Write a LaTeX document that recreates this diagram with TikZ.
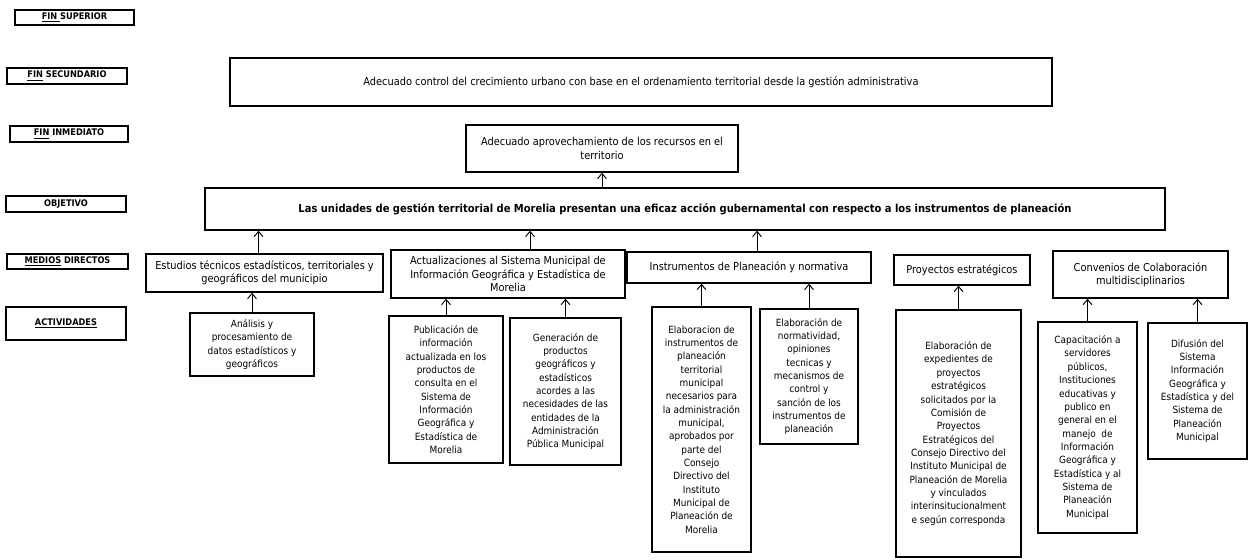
\documentclass[tikz,border=0pt]{standalone}
\usepackage{fontspec}
\setmainfont{DejaVu Sans Condensed}
\usetikzlibrary{arrows.meta}
\tikzset{>={Straight Barb[length=3pt,width=5pt]}}
\newcommand{\px}{0.02cm}
\tikzset{
  box/.style = {draw, line width=0.75pt, inner sep=1pt, align=center,
                font=\fontsize{5.65}{7.6}\selectfont},
  wh/.style 2 args = {minimum width=#1*\px, minimum height=#2*\px},
  level/.style = {box, font=\fontsize{5.2}{6}\selectfont\bfseries},
  medio/.style = {box, font=\fontsize{6.2}{7.5}\selectfont},
  fin/.style = {box, font=\fontsize{6.2}{8}\selectfont},
  up/.style = {->, line width=0.55pt}
}

\begin{document}
\begin{tikzpicture}[x=\px,y=-\px]
  \useasboundingbox (0,0) rectangle (1249,560);
  % levels on the left
  \node[level,wh={119}{15}] (lsup) at (74.5,17.5) {\underline{FIN\ }SUPERIOR};
  \node[level,wh={120}{16}] (lsec) at (67,76) {\underline{FIN} SECUNDARIO};
  \node[level,wh={118}{16}] (linm) at (69,134) {\underline{FIN} INMEDIATO};
  \node[level,wh={120}{16}] (lobj) at (66,204) {OBJETIVO};
  \node[level,wh={121}{15}] (lmed) at (67.5,261.5) {\underline{MEDIOS} DIRECTOS};
  \node[level,wh={120}{33}] (lact) at (66,323.5) {\underline{ACTIVIDADES}};
  % fines and objetivo
  \node[fin,wh={822}{48}] (fsec) at (641,82)
    {Adecuado control del crecimiento urbano con base en el ordenamiento territorial desde la gesti\'on administrativa};
  \node[fin,wh={272}{47}] (finm) at (602,148.5)
    {Adecuado aprovechamiento de los recursos en el\\territorio};
  \node[box,wh={960}{42},font=\fontsize{6.3}{8}\selectfont\bfseries] (obj) at (685,209)
    {Las unidades de gesti\'on territorial de Morelia presentan una eficaz acci\'on gubernamental con respecto a los instrumentos de planeaci\'on};
  % medios directos
  \node[medio,wh={237}{38}] (m1) at (264.5,273)
    {Estudios t\'ecnicos estad\'isticos, territoriales y\\geogr\'aficos del municipio};
  \node[medio,wh={234}{48}] (m2) at (508,274)
    {Actualizaciones al Sistema Municipal de\\Informaci\'on Geogr\'afica y Estad\'istica de\\Morelia};
  \node[medio,wh={244}{31}] (m3) at (749,267.5) {Instrumentos de Planeaci\'on y normativa};
  \node[medio,wh={136}{30}] (m4) at (962,270) {Proyectos estrat\'egicos};
  \node[medio,wh={175}{47}] (m5) at (1140.5,274.5) {Convenios de Colaboraci\'on\\multidisciplinarios};
  % actividades
  \node[box,wh={124}{63}] (a1) at (252,344.5)
    {An\'alisis y\\procesamiento de\\datos estad\'isticos y\\geogr\'aficos};
  \node[box,wh={114}{147}] (a2) at (446,389.5)
    {Publicaci\'on de\\informaci\'on\\actualizada en los\\productos de\\consulta en el\\Sistema de\\Informaci\'on\\Geogr\'afica y\\Estad\'istica de\\Morelia};
  \node[box,wh={111}{147}] (a3) at (565.5,391.5)
    {Generaci\'on de\\productos\\geogr\'aficos y\\estad\'isticos\\acordes a las\\necesidades de las\\entidades de la\\Administraci\'on\\P\'ublica Municipal};
  \node[box,wh={99}{245}] (a4) at (701.5,429.5)
    {Elaboracion de\\instrumentos de\\planeaci\'on\\territorial\\municipal\\necesarios para\\la administraci\'on\\municipal,\\aprobados por\\parte del\\Consejo\\Directivo del\\Instituto\\Municipal de\\Planeaci\'on de\\Morelia};
  \node[box,wh={98}{135}] (a5) at (809,376.5)
    {Elaboraci\'on de\\normatividad,\\opiniones\\tecnicas y\\mecanismos de\\control y\\sanci\'on de los\\instrumentos de\\planeaci\'on};
  \node[box,wh={125}{247}] (a6) at (958.5,433.5)
    {Elaboraci\'on de\\expedientes de\\proyectos\\estrat\'egicos\\solicitados por la\\Comisi\'on de\\Proyectos\\Estrat\'egicos del\\Consejo Directivo del\\Instituto Municipal de\\Planeaci\'on de Morelia\\y vinculados\\interinsitucionalment\\e seg\'un corresponda};
  \node[box,wh={99}{211}] (a7) at (1087.5,427.5)
    {Capacitaci\'on a\\servidores\\p\'ublicos,\\Instituciones\\educativas y\\publico en\\general en el\\manejo\ \ de\\Informaci\'on\\Geogr\'afica y\\Estad\'istica y al\\Sistema de\\Planeaci\'on\\Municipal};
  \node[box,wh={99}{136}] (a8) at (1197.5,391)
    {Difusi\'on del\\Sistema\\Informaci\'on\\Geogr\'afica y\\Estad\'istica y del\\Sistema de\\Planeaci\'on\\Municipal};
  % arrows
  \draw[up] (obj.north -| finm.south) -- (finm.south);
  \draw[up] ([xshift=-6*\px]m1.north) -- ([xshift=-6*\px]m1.north |- obj.south);
  \draw[up] ([xshift=22*\px]m2.north) -- ([xshift=22*\px]m2.north |- obj.south);
  \draw[up] ([xshift=8*\px]m3.north) -- ([xshift=8*\px]m3.north |- obj.south);
  \draw[up] (a1.north) -- (a1.north |- m1.south);
  \draw[up] (a2.north) -- (a2.north |- m2.south);
  \draw[up] (a3.north) -- (a3.north |- m2.south);
  \draw[up] (a4.north) -- (a4.north |- m3.south);
  \draw[up] (a5.north) -- (a5.north |- m3.south);
  \draw[up] (a6.north) -- (a6.north |- m4.south);
  \draw[up] (a7.north) -- (a7.north |- m5.south);
  \draw[up] (a8.north) -- (a8.north |- m5.south);
\end{tikzpicture}
\end{document}
